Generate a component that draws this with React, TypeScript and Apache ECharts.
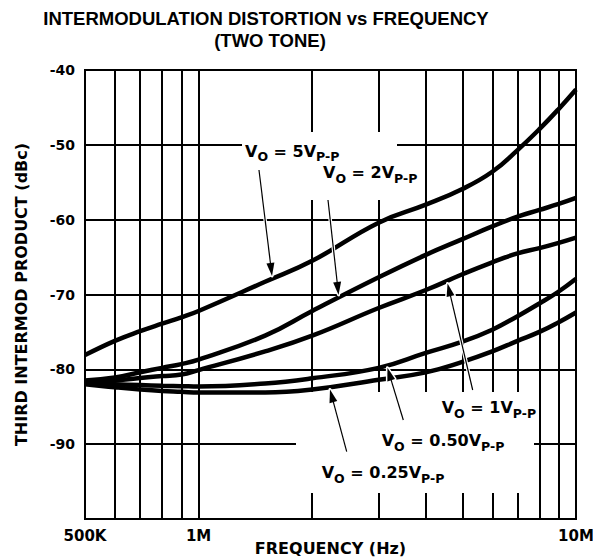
import React, { useEffect, useRef } from 'react';
import * as echarts from 'echarts';

// ---- data ----
const FREQS = [5e5, 6e5, 7e5, 8e5, 9e5, 1e6, 1.5e6, 2e6, 3e6, 4e6, 5e6, 6e6, 7e6, 8e6, 9e6, 1e7];
const V_5 = [-78.1, -76.2, -74.9, -73.9, -73.05, -72.2, -68.3, -65.5, -60.4, -58.0, -55.9, -53.6, -50.7, -47.9, -45.2, -42.6];
const V_2 = [-81.5, -81.1, -80.4, -79.8, -79.3, -78.7, -75.5, -72.2, -67.7, -64.7, -62.6, -60.9, -59.6, -58.7, -57.9, -57.1];
const V_1 = [-81.9, -81.5, -81.15, -80.9, -80.7, -80.1, -77.6, -75.5, -71.8, -69.4, -67.3, -65.7, -64.5, -63.8, -63.1, -62.4];
const V_050 = [-81.9, -82.0, -82.1, -82.2, -82.25, -82.3, -81.9, -81.2, -79.8, -77.8, -76.3, -74.7, -72.9, -71.2, -69.6, -67.9];
const V_025 = [-82.0, -82.4, -82.7, -82.9, -83.0, -83.1, -83.1, -82.7, -81.4, -80.4, -79.0, -77.6, -76.2, -75.0, -73.7, -72.4];

const GRID_FREQS = [6e5, 7e5, 8e5, 9e5, 1e6, 2e6, 3e6, 4e6, 5e6, 6e6, 7e6, 8e6, 9e6];
const X_TICKS = [5e5, 1e6, 1e7];
const X_TICK_LABELS = ['500K', '1M', '10M'];
const Y_MIN = -100;
const Y_MAX = -40;
const Y_STEP = 10;

const TITLE_1 = 'INTERMODULATION DISTORTION vs FREQUENCY';
const TITLE_2 = '(TWO TONE)';
const X_NAME = 'FREQUENCY (Hz)';
const Y_NAME = 'THIRD INTERMOD PRODUCT (dBc)';

const LABEL_VALUES = ['5', '2', '1', '0.50', '0.25'];

const FONT = "'DejaVu Sans', 'Liberation Sans', Arial, sans-serif";
const TITLE_FONT = "'Liberation Sans', Arial, Helvetica, sans-serif";

function interp(vals: number[], f: number): number {
  for (let i = 0; i < FREQS.length - 1; i++) {
    if (f >= FREQS[i] && f <= FREQS[i + 1]) {
      const t = Math.log(f / FREQS[i]) / Math.log(FREQS[i + 1] / FREQS[i]);
      return vals[i] + t * (vals[i + 1] - vals[i]);
    }
  }
  return vals[vals.length - 1];
}

export default function App() {
  const ref = useRef<HTMLDivElement>(null);

  useEffect(() => {
    const chart = echarts.init(ref.current!, null, { renderer: 'svg' });

    const curve = (vals: number[], name: string) => ({
      name,
      type: 'line',
      data: FREQS.map((f, i) => [f, vals[i]]),
      smooth: 0.45,
      symbol: 'none',
      showSymbol: false,
      silent: true,
      z: 5,
      lineStyle: { color: '#000', width: 4.5, cap: 'butt' },
      emphasis: { disabled: true },
    });

    chart.setOption({
      animation: false,
      textStyle: { fontFamily: FONT, color: '#000' },
      grid: {
        left: 85,
        right: 17,
        top: 70,
        bottom: 40,
        show: true,
        borderColor: '#000',
        borderWidth: 2,
        backgroundColor: 'transparent',
        containLabel: false,
        outerBoundsMode: 'none',
      },
      xAxis: {
        type: 'log',
        logBase: 10,
        min: X_TICKS[0],
        max: X_TICKS[X_TICKS.length - 1],
        name: X_NAME,
        nameLocation: 'middle',
        nameGap: 21,
        nameMoveOverlap: false,
        nameTextStyle: { fontFamily: FONT, fontWeight: 'bold', fontSize: 16, color: '#000' },
        axisLine: { show: false },
        axisTick: { show: false },
        splitLine: { show: false },
        axisLabel: {
          color: '#000',
          fontFamily: FONT,
          fontWeight: 'bold',
          fontSize: 15,
          margin: 9,
          showMinLabel: true,
          showMaxLabel: true,
          formatter: (v: number) => {
            const i = X_TICKS.findIndex((t) => Math.abs(t - v) / t < 0.01);
            return i >= 0 ? X_TICK_LABELS[i] : '';
          },
        },
      },
      yAxis: {
        type: 'value',
        min: Y_MIN,
        max: Y_MAX,
        interval: Y_STEP,
        name: Y_NAME,
        nameLocation: 'middle',
        nameGap: 56,
        nameMoveOverlap: false,
        nameTextStyle: { fontFamily: FONT, fontWeight: 'bold', fontSize: 16, color: '#000' },
        axisLine: { show: false },
        axisTick: { show: false },
        splitLine: { show: true, lineStyle: { color: '#000', width: 2 } },
        axisLabel: {
          color: '#000',
          fontFamily: FONT,
          fontWeight: 'bold',
          fontSize: 14,
          margin: 10,
          formatter: (v: number) => (v <= Y_MIN ? '' : String(v)),
        },
      },
      series: [
        {
          type: 'line',
          data: [],
          silent: true,
          z: 1,
          markLine: {
            z: 1,
            silent: true,
            symbol: ['none', 'none'],
            label: { show: false },
            lineStyle: { color: '#000', width: 2, type: 'solid' },
            emphasis: { disabled: true },
            data: GRID_FREQS.map((f) => ({ xAxis: f })),
          },
        },
        curve(V_5, '5'),
        curve(V_2, '2'),
        curve(V_1, '1'),
        curve(V_050, '0.50'),
        curve(V_025, '0.25'),
      ],
    });

    // ---- annotations ----
    const arrows = [
      { vals: V_5, f: 1.568e6, sx: 259, sy: 170 },
      { vals: V_2, f: 2.353e6, sx: 328, sy: 200 },
      { vals: V_1, f: 4.55e6, sx: 472.7, sy: 390 },
      { vals: V_050, f: 3.15e6, sx: 403.3, sy: 420 },
      { vals: V_025, f: 2.22e6, sx: 346.7, sy: 451.7 },
    ];
    const labelPos = [
      { x: 245, y: 151 },
      { x: 323, y: 172.5 },
      { x: 441.7, y: 407.5 },
      { x: 381.7, y: 440.8 },
      { x: 321.7, y: 472.5 },
    ];

    const graphic: any[] = [];
    graphic.push({
      type: 'text', x: 266, y: 18, z: 10, silent: true,
      style: { text: TITLE_1, fill: '#000', fontFamily: TITLE_FONT, fontWeight: 'bold', fontSize: 18.5, align: 'center', verticalAlign: 'middle' },
    });
    graphic.push({
      type: 'text', x: 270, y: 40, z: 10, silent: true,
      style: { text: TITLE_2, fill: '#000', fontFamily: TITLE_FONT, fontWeight: 'bold', fontSize: 18.5, align: 'center', verticalAlign: 'middle' },
    });
    // white boxes behind the labels
    graphic.push({ type: 'rect', z: 3, silent: true, shape: { x: 242, y: 132, width: 155, height: 68 }, style: { fill: '#fff' } });
    graphic.push({ type: 'rect', z: 3, silent: true, shape: { x: 296, y: 392, width: 238, height: 101 }, style: { fill: '#fff' } });

    LABEL_VALUES.forEach((val, i) => {
      graphic.push({
        type: 'text', x: labelPos[i].x, y: labelPos[i].y, z: 10, silent: true,
        style: {
          text: `{m|V}{s|O}{m| = ${val}V}{s|P-P}`,
          fill: '#000',
          fontFamily: FONT,
          fontWeight: 'bold',
          fontSize: 16,
          align: 'left',
          verticalAlign: 'middle',
          rich: {
            m: { fontFamily: FONT, fontWeight: 'bold', fontSize: 16, fill: '#000' },
            s: { fontFamily: FONT, fontWeight: 'bold', fontSize: 12.5, fill: '#000', padding: [11, 0, 0, 0] },
          },
        },
      });
    });

    arrows.forEach((a) => {
      const v = interp(a.vals, a.f);
      const p = chart.convertToPixel({ gridIndex: 0 }, [a.f, v]) as number[];
      let dx = p[0] - a.sx;
      let dy = p[1] - a.sy;
      const len = Math.sqrt(dx * dx + dy * dy);
      dx /= len;
      dy /= len;
      const tx = p[0] - dx * 2.6;
      const ty = p[1] - dy * 2.6;
      const headLen = 13;
      const headHalf = 4;
      const bx = tx - dx * headLen;
      const by = ty - dy * headLen;
      const nx = -dy;
      const ny = dx;
      const pts = [
        [tx, ty],
        [bx + nx * headHalf, by + ny * headHalf],
        [bx - nx * headHalf, by - ny * headHalf],
      ];
      graphic.push({ type: 'line', z: 6, silent: true, shape: { x1: a.sx, y1: a.sy, x2: bx, y2: by }, style: { stroke: '#fff', lineWidth: 3.5 } });
      graphic.push({ type: 'polygon', z: 6, silent: true, shape: { points: pts }, style: { fill: '#fff', stroke: '#fff', lineWidth: 3, lineJoin: 'round' } });
      graphic.push({ type: 'line', z: 8, silent: true, shape: { x1: a.sx, y1: a.sy, x2: bx + dx * 2, y2: by + dy * 2 }, style: { stroke: '#000', lineWidth: 1.2 } });
      graphic.push({ type: 'polygon', z: 8, silent: true, shape: { points: pts }, style: { fill: '#000' } });
    });

    chart.setOption({ graphic });

    return () => chart.dispose();
  }, []);

  return <div ref={ref} style={{ position: 'absolute', left: 0, top: 0, width: 593, height: 559 }} />;
}
